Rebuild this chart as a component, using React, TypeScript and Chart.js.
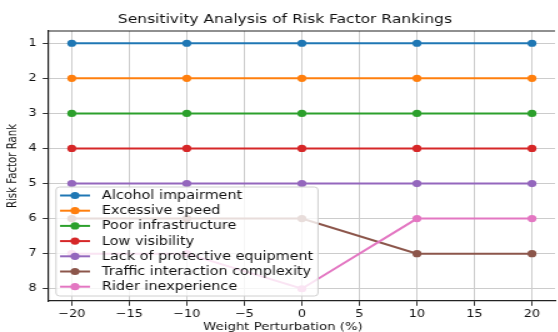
import React, { useEffect, useRef } from "react";
import { Chart, registerables } from "chart.js";

Chart.register(...registerables);

const titleText = "Sensitivity Analysis of Risk Factor Rankings";
const xAxisLabel = "Weight Perturbation (%)";
const yAxisLabel = "Risk Factor Rank";

const perturbations = [-20, -10, 0, 10, 20];
const xTicks = [-20, -15, -10, -5, 0, 5, 10, 15, 20];
const xTickLabels = ["\u221220", "\u221215", "\u221210", "\u22125", "0", "5", "10", "15", "20"];
const yTicks = [1, 2, 3, 4, 5, 6, 7, 8];

const factorNames = [
  "Alcohol impairment",
  "Excessive speed",
  "Poor infrastructure",
  "Low visibility",
  "Lack of protective equipment",
  "Traffic interaction complexity",
  "Rider inexperience",
];
const alcoholRanks = [1, 1, 1, 1, 1];
const speedRanks = [2, 2, 2, 2, 2];
const infrastructureRanks = [3, 3, 3, 3, 3];
const visibilityRanks = [4, 4, 4, 4, 4];
const protectiveRanks = [5, 5, 5, 5, 5];
const trafficRanks = [6, 6, 6, 7, 7];
const riderRanks = [7, 7, 8, 6, 6];
const seriesRanks = [
  alcoholRanks,
  speedRanks,
  infrastructureRanks,
  visibilityRanks,
  protectiveRanks,
  trafficRanks,
  riderRanks,
];
const colors = ["#1f77b4", "#ff7f0e", "#2ca02c", "#d62728", "#9467bd", "#8c564b", "#e377c2"];

const SX = 1.25;
const W = 448;
const FONT = "'DejaVu Sans', sans-serif";
const TEXT = "#111111";

const customPlugin = {
  id: "customDecor",
  afterDatasetsDraw(chart: any) {
    const ctx = chart.ctx;
    ctx.save();
    const bx = 56 / SX, by = 187, bw = 262 / SX, bh = 109, r = 3;
    ctx.beginPath();
    ctx.moveTo(bx + r, by);
    ctx.lineTo(bx + bw - r, by);
    ctx.quadraticCurveTo(bx + bw, by, bx + bw, by + r);
    ctx.lineTo(bx + bw, by + bh - r);
    ctx.quadraticCurveTo(bx + bw, by + bh, bx + bw - r, by + bh);
    ctx.lineTo(bx + r, by + bh);
    ctx.quadraticCurveTo(bx, by + bh, bx, by + bh - r);
    ctx.lineTo(bx, by + r);
    ctx.quadraticCurveTo(bx, by, bx + r, by);
    ctx.closePath();
    ctx.fillStyle = "rgba(255,255,255,0.8)";
    ctx.fill();
    ctx.strokeStyle = "#d0d0d0";
    ctx.lineWidth = 1;
    ctx.stroke();
    ctx.font = `11.5px ${FONT}`;
    ctx.textBaseline = "middle";
    ctx.textAlign = "left";
    chart.data.datasets.forEach((ds: any, i: number) => {
      const y = 195.5 + i * 15.2;
      ctx.strokeStyle = ds.borderColor;
      ctx.lineWidth = 2;
      ctx.beginPath();
      ctx.moveTo(60 / SX, y);
      ctx.lineTo(90 / SX, y);
      ctx.stroke();
      ctx.fillStyle = ds.backgroundColor;
      ctx.beginPath();
      ctx.arc(75 / SX, y, 3.6, 0, Math.PI * 2);
      ctx.fill();
      ctx.fillStyle = TEXT;
      ctx.fillText(ds.label, 102 / SX, y + 0.5);
    });
    ctx.restore();
  },
  afterDraw(chart: any) {
    const ctx = chart.ctx;
    const ca = chart.chartArea;
    ctx.save();
    ctx.strokeStyle = "#222";
    ctx.lineWidth = 1.2;
    ctx.beginPath();
    ctx.moveTo(ca.left, ca.top);
    ctx.lineTo(ca.right, ca.top);
    ctx.stroke();
    ctx.fillStyle = TEXT;
    ctx.textAlign = "center";
    ctx.textBaseline = "middle";
    ctx.font = `12.4px ${FONT}`;
    ctx.fillText(titleText, 285 / SX, 20);
    ctx.font = `10.6px ${FONT}`;
    ctx.fillText(xAxisLabel, 283 / SX, 327);
    ctx.restore();
  },
};

export default function App() {
  const ref = useRef<HTMLCanvasElement | null>(null);
  useEffect(() => {
    if (!ref.current) return;
    const datasets = seriesRanks.map((ranks, i) => ({
      label: factorNames[i],
      data: perturbations.map((x, j) => ({ x, y: ranks[j] })),
      borderColor: colors[i],
      backgroundColor: colors[i],
      pointBackgroundColor: colors[i],
      pointBorderWidth: 0,
      pointRadius: 3.6,
      borderWidth: 2,
      tension: 0,
      order: seriesRanks.length - i,
    }));
    const gridOpts = { color: "#cccccc", lineWidth: 1, tickColor: "#333", tickLength: 4.8, tickWidth: 1 };
    const chart = new Chart(ref.current, {
      type: "line",
      data: { datasets },
      options: {
        animation: false,
        responsive: false,
        devicePixelRatio: 1,
        layout: { padding: { top: 31, right: 0, left: 0, bottom: 0 } },
        plugins: { legend: { display: false }, tooltip: { enabled: false }, title: { display: false } },
        scales: {
          x: {
            type: "linear",
            min: -22,
            max: 22,
            afterFit: (s: any) => {
              s.height = 31;
            },
            afterBuildTicks: (s: any) => {
              s.ticks = xTicks.map((v) => ({ value: v }));
            },
            ticks: {
              font: { family: FONT, size: 10.3 },
              color: TEXT,
              padding: 2,
              maxRotation: 0,
              autoSkip: false,
              callback: (v: any) => {
                const k = xTicks.indexOf(Number(v));
                return k >= 0 ? xTickLabels[k] : "";
              },
            },
            grid: gridOpts,
            border: { color: "#222", width: 1.2 },
          },
          y: {
            type: "linear",
            reverse: true,
            min: 0.65,
            max: 8.35,
            afterFit: (s: any) => {
              s.width = 39;
            },
            afterBuildTicks: (s: any) => {
              s.ticks = yTicks.map((v) => ({ value: v }));
            },
            ticks: {
              font: { family: FONT, size: 10.3 },
              color: TEXT,
              padding: 5,
              autoSkip: false,
              callback: (v: any) => String(v),
            },
            title: {
              display: true,
              text: yAxisLabel,
              font: { family: FONT, size: 10.2 },
              color: TEXT,
              padding: { top: 4.2, bottom: 0 },
            },
            grid: gridOpts,
            border: { color: "#222", width: 1.2 },
          },
        },
      },
      plugins: [customPlugin],
    });
    return () => chart.destroy();
  }, []);
  return (
    <div style={{ position: "fixed", left: 0, top: 0, width: 558, height: 332, overflow: "hidden", background: "#fff" }}>
      <div style={{ transform: `scaleX(${SX})`, transformOrigin: "0 0", width: W, height: 332 }}>
        <canvas ref={ref} width={W} height={332} />
      </div>
    </div>
  );
}
